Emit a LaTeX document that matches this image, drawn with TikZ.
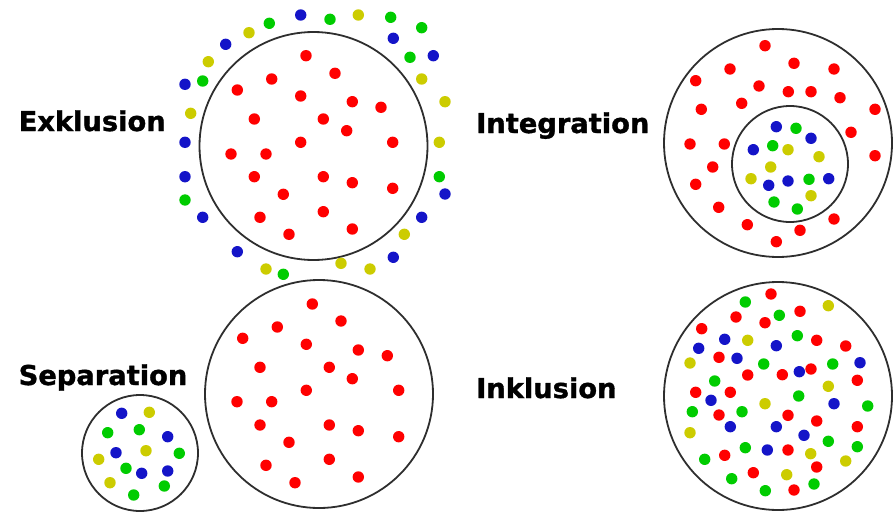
\documentclass[tikz,border=0pt]{standalone}
\usepackage{fontspec}
\setmainfont{DejaVu Sans}
\newfontfamily\lblfont[FakeBold=1.2]{DejaVu Sans Bold}
\definecolor{dR}{RGB}{255,0,0}
\definecolor{dG}{RGB}{0,204,0}
\definecolor{dB}{RGB}{20,20,200}
\definecolor{dY}{RGB}{204,204,0}
\tikzset{
  ring/.style={draw=black!82, line width=1.8pt},
  lbl/.style={anchor=base west, inner sep=0pt, font=\fontsize{27.3}{30}\lblfont},
}
\begin{document}
\begin{tikzpicture}[x=1pt,y=-1pt]
\useasboundingbox (0,0) rectangle (893,511);
% labels
\node[lbl] (l1) at (18.5,131) {Exklusion};
\node[lbl] (l2) at (476,133) {Integration};
\node[lbl] (l3) at (18.5,385) {Separation};
\node[lbl] (l4) at (476,398) {Inklusion};
% circles
\draw[ring] (313.5,146) circle (114pt);
\draw[ring] (778,143) circle (114pt);
\draw[ring] (790,164) circle (58pt);
\draw[ring] (319,394) circle (114pt);
\draw[ring] (140,453) circle (58pt);
\draw[ring] (778,396) circle (114pt);
% Exklusion
\foreach \x/\y in {306/55.7,335/73.3,271.7/79,237.3/90,300.7/96,352.3/101.7,381/107.3,254.3/119,323.3/119,346.7/130.7,300.7/142.3,392.7/142.3,231/154,266/154,254.3/176.7,323.3/176.7,352.3/182.7,392.7/188.3,283.3/194.3,323.3/211.7,260/217.3,352.3/229,289/234.3}
  \fill[dR] (\x,\y) circle (5.7pt);
\foreach \x/\y in {300.7/15,393.3/38.3,433.3/55.7,445/194,421.7/217.3,393.3/257.3,237.3/251.7,202.7/217.3,185/176.7,185/142.3,185/84.3,225.7/44.3}
  \fill[dB] (\x,\y) circle (5.7pt);
\foreach \x/\y in {330/19.3,390.7/17.3,421.7/27.7,410/57.3,439.3/176.7,283.3/274.3,185/200,202.7/81,269.3/23.3}
  \fill[dG] (\x,\y) circle (5.7pt);
\foreach \x/\y in {358.3/15,421.7/79,445/101.7,439.3/142.3,404.3/234.3,370/269,341/263.3,266/269,190.7/113.3,208.3/61.7,249/32.7}
  \fill[dY] (\x,\y) circle (5.7pt);
% Integration
\foreach \x/\y in {765/45.7,794/63.3,730/69,834/69,695.7/80.7,759/86,788.3/91.7,811/91.7,840/97.7,741.7/103.3,701.3/109.3,875/109.3,851/132.3,690/144,724.3/144,875/155.7,712.7/167,695.7/184.3,718.7/207.3,834/219,747.3/224.7,800/230.3,776.3/241.7}
  \fill[dR] (\x,\y) circle (5.7pt);
\foreach \x/\y in {776.3/126.7,811/138.3,753.3/149.7,768.7/185.3,788/181,828.7/178.7}
  \fill[dB] (\x,\y) circle (5.7pt);
\foreach \x/\y in {796/128.3,772.7/145.7,809/179.3,774/202,797.3/209}
  \fill[dG] (\x,\y) circle (5.7pt);
\foreach \x/\y in {788/149.7,819/156.7,770.7/167,751/178.7,811/195.7}
  \fill[dY] (\x,\y) circle (5.7pt);
% Separation
\foreach \x/\y in {312.3/304,341/321,277.3/327,242.7/338.3,306.3/344.3,358.3/350,387.3/355.7,260/367.3,329.3/367.3,352.3/378.7,306.3/390.3,398.7/390.3,237/401.7,271.7/401.7,260/425,329.3/425,358.3/430.7,398.7/436.7,289/442.3,329.3/459.3,266/465.3,358.3/477,295/482.7}
  \fill[dR] (\x,\y) circle (5.7pt);
\foreach \x/\y in {121.7/413.3,167.7/436.7,116/452.7,141.7/473.3,167.7/471}
  \fill[dB] (\x,\y) circle (5.7pt);
\foreach \x/\y in {107.7/432.7,139.3/429.7,179.3/453.3,126/468.3,164.3/486,133.7/495}
  \fill[dG] (\x,\y) circle (5.7pt);
\foreach \x/\y in {149.3/412.3,146/450.7,98.7/459.3,110/482.7}
  \fill[dY] (\x,\y) circle (5.7pt);
% Inklusion
\foreach \x/\y in {771/294,800/311.3,736/317,765/322.7,701.7/328.7,816.7/340.3,845.7/346,719/357.3,747.7/375,782.3/374.7,811/369,857.3/380.3,695.7/392.3,730.3/392.3,719/415,788/415.3,816.7/421,857.3/426.7,788/450,724.7/455.3,816.7/467,753.3/472.7,794/490}
  \fill[dR] (\x,\y) circle (5.7pt);
\foreach \x/\y in {724.7/339.3,698.7/348.3,776.3/345.7,737/358.3,860/362.7,799.3/371.7,711/400.3,834/403.7,730.3/426.7,776.3/426.7,804/435.3,767.3/450}
  \fill[dB] (\x,\y) circle (5.7pt);
\foreach \x/\y in {745.3/302,779.3/315.3,797.3/335.7,763.7/364,832.7/364,714.7/381,798.7/396,867.7/406,692.3/411.7,742/411.7,828.3/441.3,857.3/446.7,745.3/447.7,704.7/459.3,731.7/478.7,814/484,765.3/490.7}
  \fill[dG] (\x,\y) circle (5.7pt);
\foreach \x/\y in {828.3/305.7,747.7/340.3,690/363,828.3/386.3,765/403.7,690/432.7,810.7/453.7,845.7/461,786.7/474.7}
  \fill[dY] (\x,\y) circle (5.7pt);
\end{tikzpicture}
\end{document}
